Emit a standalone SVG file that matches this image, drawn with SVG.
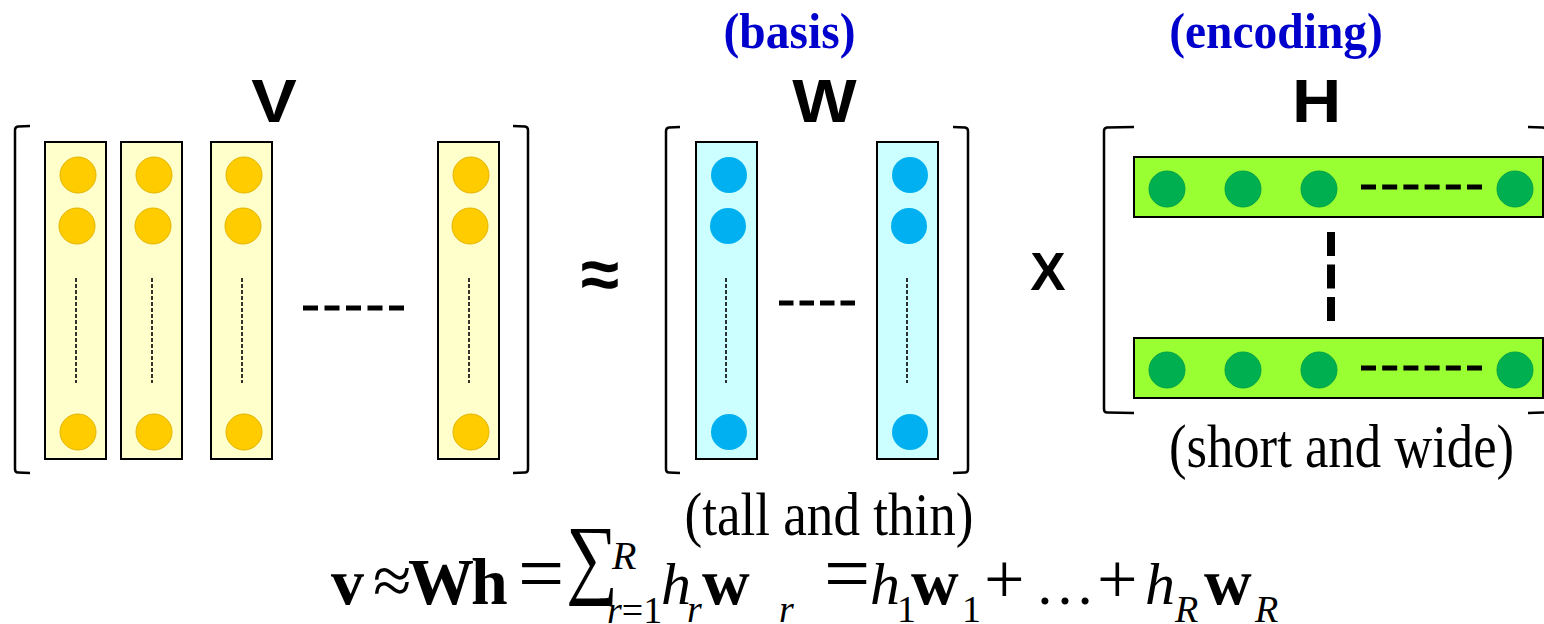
<svg xmlns="http://www.w3.org/2000/svg" width="1544" height="624" viewBox="0 0 1544 624">
<style>
.br{fill:none;stroke:#000;stroke-width:2.5;stroke-linejoin:round}
.vc{fill:#FFFFCC;stroke:#000;stroke-width:2}
.vd{fill:#FFCC00;stroke:#E3B400;stroke-width:1}
.wc{fill:#CCFFFF;stroke:#000;stroke-width:2}
.wd{fill:#00B0F0}
.hb{fill:#99FF33;stroke:#000;stroke-width:2}
.hd{fill:#00B050;stroke:#00A347;stroke-width:1}
.dot{stroke:#000;stroke-width:1.6;stroke-dasharray:4 2;fill:none}
.dash{stroke:#000;stroke-width:5;fill:none}
.lbl{font-family:"Liberation Sans",Arial,sans-serif;font-weight:bold;fill:#000}
.cap{font-family:"Liberation Serif","Times New Roman",serif;fill:#000}
.blue{font-family:"Liberation Serif","Times New Roman",serif;font-weight:bold;fill:#0000CC}
.b{font-weight:bold;font-size:66px}
.i{font-style:italic}
.s{font-size:38px}
</style>
<defs>
<g id="vcol"><rect class="vc" x="0" y="142" width="61" height="317"/><circle class="vd" cx="33" cy="175" r="18"/><circle class="vd" cx="32" cy="226" r="18"/><circle class="vd" cx="33" cy="432" r="18"/><line class="dot" x1="31" y1="278" x2="31" y2="383"/></g>
<g id="wcol"><rect class="wc" x="0" y="142" width="61" height="317"/><circle class="wd" cx="33" cy="175" r="18"/><circle class="wd" cx="32" cy="226" r="18"/><circle class="wd" cx="33" cy="432" r="18"/><line class="dot" x1="30" y1="278" x2="30" y2="383"/></g>
<g id="hrow"><rect class="hb" x="1134" y="0" width="409" height="60"/><circle class="hd" cx="1167" cy="32" r="18"/><circle class="hd" cx="1243" cy="32" r="18"/><circle class="hd" cx="1319" cy="32" r="18"/><circle class="hd" cx="1515" cy="32" r="18"/><line class="dash" x1="1361" y1="30" x2="1482" y2="30" style="stroke-dasharray:15 6.2"/></g>
</defs>

<g id="matrix-V">
<path class="br" d="M30 126 L18 126.5 Q15 127 15 130 L15 469 Q15 472.5 18 472.5 L30 473"/>
<path class="br" d="M513 126 L525 126.5 Q528 127 528 130 L528 469 Q528 472.5 525 472.5 L513 473"/>
<use href="#vcol" x="45"/>
<use href="#vcol" x="121"/>
<use href="#vcol" x="211"/>
<use href="#vcol" x="438"/>
<text class="lbl" transform="translate(274 122) scale(1.1 1)" font-size="62" text-anchor="middle">V</text>
</g>

<g id="approx">
<text class="lbl" x="600" y="298" font-size="70" text-anchor="middle">≈</text>
</g>

<g id="matrix-W">
<path class="br" d="M680 127 L669 127.5 Q666 128 666 131 L666 469 Q666 472.5 669 472.5 L680 473"/>
<path class="br" d="M953 127 L965 127.5 Q968 128 968 131 L968 469 Q968 472.5 965 472.5 L953 473"/>
<use href="#wcol" x="696"/>
<use href="#wcol" x="877"/>
<text class="lbl" transform="translate(824.5 122) scale(1.1 1)" font-size="62" text-anchor="middle">W</text>
<text class="blue" transform="translate(789.5 48) scale(0.95 1)" font-size="50" text-anchor="middle">(basis)</text>
<text class="cap" transform="translate(829 535) scale(0.87 1)" font-size="61" text-anchor="middle">(tall and thin)</text>
</g>

<g id="times">
<text class="lbl" x="1048" y="290" font-size="53" text-anchor="middle">X</text>
</g>

<g id="matrix-H">
<path class="br" d="M1134 127 L1107 127.5 Q1104 128 1104 131 L1104 409 Q1104 412.5 1107 412.5 L1134 413"/>
<path class="br" d="M1528 127 L1543 127.5 Q1546 128 1546 131 L1546 409 Q1546 412.5 1543 412.5 L1528 413"/>
<use href="#hrow" y="157"/>
<use href="#hrow" y="338"/>
<text class="lbl" transform="translate(1316.5 122) scale(1.1 1)" font-size="62" text-anchor="middle">H</text>
<text class="blue" transform="translate(1276 48) scale(0.95 1)" font-size="50" text-anchor="middle">(encoding)</text>
<text class="cap" transform="translate(1341.5 467) scale(0.85 1)" font-size="62" text-anchor="middle">(short and wide)</text>
</g>

<g id="connectors">
<line class="dash" x1="303" y1="308" x2="404" y2="308" style="stroke-dasharray:15 6.5"/>
<line class="dash" x1="779" y1="303" x2="855" y2="303" style="stroke-dasharray:14.5 6"/>
<line class="dash" x1="1331" y1="232" x2="1331" y2="321" style="stroke-width:8;stroke-dasharray:24 8.5"/>
</g>

<g id="formula" class="cap" font-size="60">
<text y="604"><tspan x="331" class="b">v</tspan><tspan x="373" font-size="70">≈</tspan><tspan x="408" class="b">W</tspan><tspan x="471" class="b">h</tspan></text>
<text x="518" y="601" font-size="82">=</text>
<text transform="translate(566 587) scale(0.82 1)" font-size="89">∑</text>
<text x="612" y="569" font-size="40" class="i">R</text>
<text x="607" y="623" class="s"><tspan class="i">r</tspan>=1</text>
<text y="604"><tspan x="661" class="i">h</tspan><tspan x="687" y="622" class="s i">r</tspan><tspan x="702" y="604" class="b">w</tspan><tspan x="779" y="622" class="s i">r</tspan></text>
<text x="824" y="601" font-size="82">=</text>
<text y="604"><tspan x="870" class="i">h</tspan><tspan x="897" y="622" class="s">1</tspan><tspan x="911" y="604" class="b">w</tspan><tspan x="962" y="622" class="s">1</tspan></text>
<text x="984" y="603" font-size="72">+</text>
<text x="1035" y="604">…</text>
<text x="1097" y="603" font-size="72">+</text>
<text y="604"><tspan x="1145" class="i">h</tspan><tspan x="1175" y="622" class="s i">R</tspan><tspan x="1204" y="604" class="b">w</tspan><tspan x="1255" y="622" class="s i">R</tspan></text>
</g>
</svg>
